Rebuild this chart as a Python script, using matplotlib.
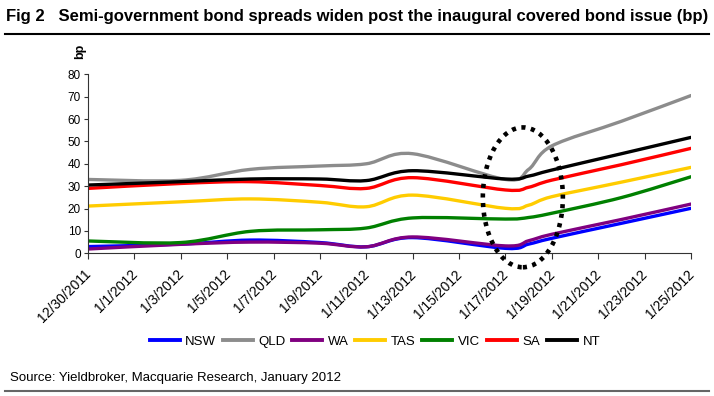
import matplotlib
matplotlib.use("Agg")
import matplotlib.pyplot as plt
import matplotlib.dates as mdates
import matplotlib.transforms as mtransforms
from matplotlib.path import Path
from matplotlib.patches import PathPatch, Ellipse
from matplotlib.lines import Line2D
import numpy as np
import pandas as pd

plt.rcParams['font.family'] = ['Liberation Sans', 'DejaVu Sans']

# ---------------- data ----------------
dates = ["2011-12-30", "2012-01-03", "2012-01-06", "2012-01-09", "2012-01-11",
         "2012-01-13", "2012-01-17", "2012-01-18", "2012-01-19", "2012-01-22",
         "2012-01-25"]
series_names = ["NSW", "QLD", "WA", "TAS", "VIC", "SA", "NT"]
nsw = [3.0, 4.1, 5.9, 4.8, 2.9, 7.0, 2.2, 4.1, 6.7, 13.4, 20.1]
qld = [33.0, 32.6, 37.5, 39.0, 40.0, 44.5, 33.0, 37.5, 48.0, 59.0, 70.5]
wa = [1.9, 4.0, 5.0, 4.5, 2.9, 7.3, 3.3, 5.6, 8.5, 15.1, 22.0]
tas = [21.1, 23.0, 24.3, 22.8, 20.8, 26.0, 20.1, 21.5, 25.3, 31.8, 38.4]
vic = [5.5, 4.8, 9.8, 10.5, 11.3, 15.8, 15.3, 16.0, 17.9, 24.9, 34.2]
sa = [29.0, 31.2, 32.0, 30.3, 29.0, 33.8, 28.3, 29.5, 32.7, 39.6, 46.9]
nt = [30.5, 32.0, 33.2, 33.2, 32.5, 36.9, 33.2, 34.5, 37.2, 44.5, 51.8]
values = [nsw, qld, wa, tas, vic, sa, nt]
colors = ["#0000FF", "#8C8C8C", "#800080", "#FFCC00", "#008000", "#FF0000", "#000000"]

tick_dates = pd.date_range("2011-12-30", "2012-01-25", freq="2D")
tick_labels = [f"{d.month}/{d.day}/{d.year}" for d in tick_dates]

title = "Fig 2   Semi-government bond spreads widen post the inaugural covered bond issue (bp)"
source = "Source: Yieldbroker, Macquarie Research, January 2012"


def smooth_path(xs, ys):
    pts = np.column_stack([xs, ys]).astype(float)
    n = len(pts)
    verts = [pts[0]]
    codes = [Path.MOVETO]
    for i in range(n - 1):
        p0 = pts[i - 1] if i > 0 else pts[i]
        p1 = pts[i]
        p2 = pts[i + 1]
        p3 = pts[i + 2] if i + 2 < n else pts[i + 1]
        c1 = p1 + (p2 - p0) / 6.0
        c2 = p2 - (p3 - p1) / 6.0
        verts += [c1, c2, p2]
        codes += [Path.CURVE4] * 3
    return Path(verts, codes)


fig = plt.figure(figsize=(7.14, 3.96), dpi=100)
ax = fig.add_axes([0.1232, 0.3604, 0.8446, 0.452])

xnum = mdates.date2num(pd.to_datetime(dates))
for name, vals, c in zip(series_names, values, colors):
    ax.add_patch(PathPatch(smooth_path(xnum, vals), fill=False, edgecolor=c,
                           lw=2.4, capstyle='round', joinstyle='round'))

ax.set_xlim(mdates.date2num(tick_dates[0]), mdates.date2num(tick_dates[-1]))
ax.set_ylim(0, 80)
ax.set_yticks(range(0, 81, 10))
ax.set_xticks(mdates.date2num(tick_dates))
ax.set_xticklabels(tick_labels, rotation=45, ha='right', rotation_mode='anchor',
                   fontsize=10)
ax.tick_params(axis='y', labelsize=8.5, length=3, width=0.8, color='#333333', pad=2)
ax.tick_params(axis='x', length=4, width=0.8, color='#333333', pad=6)
shift = mtransforms.ScaledTranslation(-4 / 100, 0, fig.dpi_scale_trans)
for lbl in ax.get_xticklabels():
    lbl.set_transform(lbl.get_transform() + shift)
for s in ['top', 'right']:
    ax.spines[s].set_visible(False)
for s in ['left', 'bottom']:
    ax.spines[s].set_color('#333333')
    ax.spines[s].set_linewidth(0.8)

# dotted ellipse highlight
ecen = mdates.date2num(pd.Timestamp("2012-01-17 18:00"))
ax.add_patch(Ellipse((ecen, 25.0), width=3.45, height=62.5, fill=False,
                     edgecolor='black', lw=3.3, linestyle=(0, (0.9, 1.2)),
                     clip_on=False, zorder=5))

fig.text(0.112, 0.87, "bp", rotation=90, fontsize=9, fontweight='bold',
         ha='center', va='center')

handles = [Line2D([0], [0], color=c, lw=2.8) for c in colors]
fig.legend(handles, series_names, loc='center', bbox_to_anchor=(0.525, 0.137),
           ncol=7, frameon=False, fontsize=9.5, handlelength=2.27,
           handletextpad=0.43, columnspacing=0.5)

fig.text(0.008, 0.978, title, fontsize=12, fontweight='bold', ha='left', va='top')
fig.add_artist(Line2D([0.007, 0.993], [0.915, 0.915], color='black', lw=1.5,
                      transform=fig.transFigure))
fig.text(0.014, 0.045, source, fontsize=9.5, ha='left', va='center')
fig.add_artist(Line2D([0.007, 0.993], [0.012, 0.012], color='#666666', lw=1.5,
                      transform=fig.transFigure))

fig.savefig("out.png", dpi=100)
